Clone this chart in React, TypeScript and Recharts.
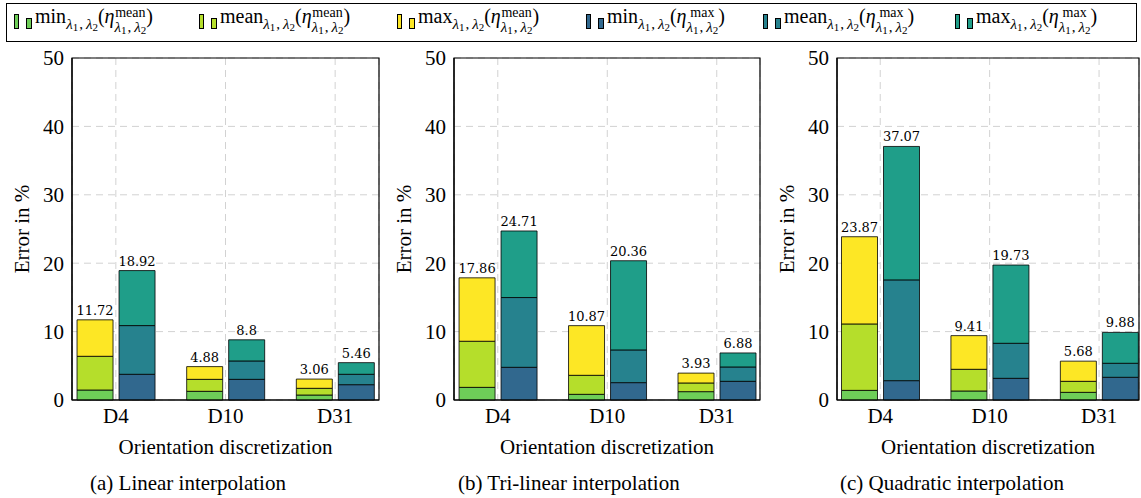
import React from 'react';
import { BarChart, Bar, XAxis, YAxis, CartesianGrid, LabelList, Label, ReferenceArea } from 'recharts';

const categories = ['D4', 'D10', 'D31'];
const yTicks = [0, 10, 20, 30, 40, 50];

// (a) linear interpolation
const linMeanMin = [1.46, 1.27, 0.73];
const linMeanMean = [6.39, 3.02, 1.71];
const linMeanMax = [11.72, 4.88, 3.06];
const linMaxMin = [3.76, 3.02, 2.24];
const linMaxMean = [10.88, 5.71, 3.76];
const linMaxMax = [18.92, 8.8, 5.46];

// (b) tri-linear interpolation
const triMeanMin = [1.85, 0.83, 1.22];
const triMeanMean = [8.59, 3.61, 2.49];
const triMeanMax = [17.86, 10.87, 3.93];
const triMaxMin = [4.78, 2.54, 2.73];
const triMaxMean = [14.98, 7.32, 4.83];
const triMaxMax = [24.71, 20.36, 6.88];

// (c) quadratic interpolation
const quadMeanMin = [1.41, 1.32, 1.12];
const quadMeanMean = [11.12, 4.49, 2.73];
const quadMeanMax = [23.87, 9.41, 5.68];
const quadMaxMin = [2.83, 3.17, 3.32];
const quadMaxMean = [17.56, 8.29, 5.37];
const quadMaxMax = [37.07, 19.73, 9.88];

const COLORS = {
  meanMin: '#6ece58',
  meanMean: '#b5de2b',
  meanMax: '#fde725',
  maxMin: '#31688e',
  maxMean: '#26828e',
  maxMax: '#1f9e89',
};

const SERIF = 'Liberation Serif';

type Series = {
  meanMin: number[];
  meanMean: number[];
  meanMax: number[];
  maxMin: number[];
  maxMean: number[];
  maxMax: number[];
};

// bars in pgfplots overlap from zero; stacking the differences gives the same picture
const buildRows = (s: Series) =>
  categories.map((name, i) => ({
    pos: i,
    name,
    aMin: s.meanMin[i],
    aMid: s.meanMean[i] - s.meanMin[i],
    aTop: s.meanMax[i] - s.meanMean[i],
    aLabel: s.meanMax[i],
    bMin: s.maxMin[i],
    bMid: s.maxMean[i] - s.maxMin[i],
    bTop: s.maxMax[i] - s.maxMean[i],
    bLabel: s.maxMax[i],
  }));

const panels = [
  {
    caption: '(a) Linear interpolation',
    captionLeft: 90,
    plotLeft: 72,
    plotWidth: 307,
    domain: [-0.4, 2.4],
    rows: buildRows({ meanMin: linMeanMin, meanMean: linMeanMean, meanMax: linMeanMax, maxMin: linMaxMin, maxMean: linMaxMean, maxMax: linMaxMax }),
  },
  {
    caption: '(b) Tri-linear interpolation',
    captionLeft: 458,
    plotLeft: 454,
    plotWidth: 306,
    domain: [-0.4, 2.395],
    rows: buildRows({ meanMin: triMeanMin, meanMean: triMeanMean, meanMax: triMeanMax, maxMin: triMaxMin, maxMean: triMaxMean, maxMax: triMaxMax }),
  },
  {
    caption: '(c) Quadratic interpolation',
    captionLeft: 840,
    plotLeft: 837,
    plotWidth: 302,
    domain: [-0.395, 2.365],
    rows: buildRows({ meanMin: quadMeanMin, meanMean: quadMeanMean, meanMax: quadMeanMax, maxMin: quadMaxMin, maxMean: quadMaxMean, maxMax: quadMaxMax }),
  },
];

const legendItems = [
  { op: 'min', kind: 'mean', color: COLORS.meanMin, left: 14 },
  { op: 'mean', kind: 'mean', color: COLORS.meanMean, left: 199 },
  { op: 'max', kind: 'mean', color: COLORS.meanMax, left: 397 },
  { op: 'min', kind: 'max', color: COLORS.maxMin, left: 586 },
  { op: 'mean', kind: 'max', color: COLORS.maxMean, left: 763 },
  { op: 'max', kind: 'max', color: COLORS.maxMax, left: 955 },
];

const Lam = () => (
  <span style={{ fontSize: 15 }}>
    <i>λ</i>
    <span style={{ fontSize: 11, position: 'relative', top: 2, marginRight: 1 }}>1</span>,
    <span style={{ marginLeft: 3 }}>
      <i>λ</i>
    </span>
    <span style={{ fontSize: 11, position: 'relative', top: 2 }}>2</span>
  </span>
);

const LegendEntry = ({ op, kind, color, left }: { op: string; kind: string; color: string; left: number }) => (
  <div style={{ position: 'absolute', left, top: 0, height: 38, display: 'flex', alignItems: 'center', whiteSpace: 'nowrap', fontFamily: SERIF }}>
    <div style={{ display: 'flex', alignItems: 'flex-end', height: 15, marginRight: 3, marginTop: -4 }}>
      <div style={{ width: 3, height: 13, background: color, border: '1px solid #000', marginRight: 7 }} />
      <div style={{ width: 4, height: 9, background: color, border: '1px solid #000' }} />
    </div>
    <span style={{ fontSize: 20, lineHeight: 1, marginTop: -6 }}>
      {op}
      <span style={{ position: 'relative', top: 6 }}>
        <Lam />
      </span>
      (<i>η</i>
      <span
        style={{
          display: 'inline-flex',
          flexDirection: 'column',
          alignItems: 'center',
          verticalAlign: 6,
          fontSize: 14,
          lineHeight: 0.95,
        }}
      >
        <span>{kind}</span>
        <Lam />
      </span>
      )
    </span>
  </div>
);

const Panel = ({ p }: { p: (typeof panels)[number] }) => {
  const yAxisWidth = 72;
  const rightMargin = 2;
  const width = yAxisWidth + p.plotWidth + rightMargin;
  const tickStyle = { fontFamily: SERIF, fontSize: 21, fill: '#000' };
  const valueStyle = { fontFamily: 'DejaVu Serif', fontSize: 13, fill: '#000' };
  return (
    <div style={{ position: 'absolute', left: p.plotLeft - yAxisWidth, top: 45 }}>
      <BarChart
        width={width}
        height={415}
        data={p.rows}
        margin={{ top: 13, right: rightMargin, left: 0, bottom: 0 }}
        barSize={36}
        barGap={6}
        style={{ fontFamily: SERIF }}
      >
        <CartesianGrid stroke="#d2d2d2" strokeDasharray="7 5" />
        <XAxis
          dataKey="pos"
          type="number"
          domain={p.domain}
          ticks={[0, 1, 2]}
          allowDataOverflow
          interval={0}
          tickFormatter={(v: number) => categories[v] ?? ''}
          tick={tickStyle}
          tickLine={false}
          axisLine={{ stroke: '#000', strokeWidth: 1.2 }}
          height={60}
        >
          <Label
            value="Orientation discretization"
            position="insideBottom"
            offset={6}
            style={{ fontFamily: SERIF, fontSize: 21, fill: '#000' }}
          />
        </XAxis>
        <YAxis
          type="number"
          domain={[0, 50]}
          ticks={yTicks}
          interval={0}
          tick={tickStyle}
          tickLine={false}
          axisLine={{ stroke: '#000', strokeWidth: 1.2 }}
          width={yAxisWidth}
        >
          <Label
            value="Error in %"
            angle={-90}
            position="insideLeft"
            offset={22}
            style={{ fontFamily: SERIF, fontSize: 21, fill: '#000', textAnchor: 'middle' }}
          />
        </YAxis>
        <ReferenceArea
          x1={p.domain[0]}
          x2={p.domain[1]}
          y1={0}
          y2={50}
          fill="none"
          stroke="#000"
          strokeWidth={1.2}
          fillOpacity={0}
        />
        <Bar dataKey="aMin" stackId="mean" fill={COLORS.meanMin} stroke="#000" strokeWidth={0.8} isAnimationActive={false} />
        <Bar dataKey="aMid" stackId="mean" fill={COLORS.meanMean} stroke="#000" strokeWidth={0.8} isAnimationActive={false} />
        <Bar dataKey="aTop" stackId="mean" fill={COLORS.meanMax} stroke="#000" strokeWidth={0.8} isAnimationActive={false}>
          <LabelList dataKey="aLabel" position="top" offset={5} style={valueStyle} />
        </Bar>
        <Bar dataKey="bMin" stackId="max" fill={COLORS.maxMin} stroke="#000" strokeWidth={0.8} isAnimationActive={false} />
        <Bar dataKey="bMid" stackId="max" fill={COLORS.maxMean} stroke="#000" strokeWidth={0.8} isAnimationActive={false} />
        <Bar dataKey="bTop" stackId="max" fill={COLORS.maxMax} stroke="#000" strokeWidth={0.8} isAnimationActive={false}>
          <LabelList dataKey="bLabel" position="top" offset={5} style={valueStyle} />
        </Bar>
      </BarChart>
    </div>
  );
};

export default function App() {
  return (
    <div style={{ position: 'absolute', left: 0, top: 0, width: 1141, height: 498, background: '#fff', overflow: 'hidden' }}>
      <div
        style={{
          position: 'absolute',
          left: 6,
          top: 3,
          width: 1131,
          height: 39,
          border: '1px solid #000',
          boxSizing: 'border-box',
        }}
      >
        {legendItems.map((it) => (
          <LegendEntry key={it.op + it.kind} op={it.op} kind={it.kind} color={it.color} left={it.left - 7} />
        ))}
      </div>
      {panels.map((p) => (
        <Panel key={p.caption} p={p} />
      ))}
      {panels.map((p) => (
        <div
          key={p.caption + '-cap'}
          style={{ position: 'absolute', left: p.captionLeft, top: 471, fontFamily: SERIF, fontSize: 21, whiteSpace: 'nowrap' }}
        >
          {p.caption}
        </div>
      ))}
    </div>
  );
}
